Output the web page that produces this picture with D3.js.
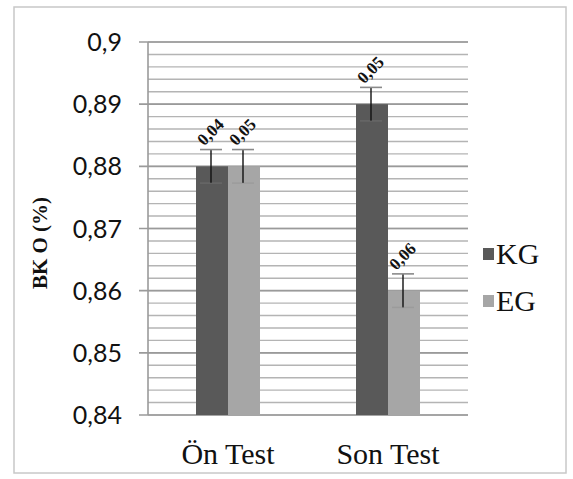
<!DOCTYPE html>
<html><head><meta charset="utf-8">
<script src="https://cdn.jsdelivr.net/npm/d3@7"></script>
<style>body{margin:0;background:#fff}svg{display:block}</style>
</head><body>
<script>
const categories = ["Ön Test", "Son Test"];
const seriesNames = ["KG", "EG"];
const kgValues = [0.88, 0.89];
const egValues = [0.88, 0.86];
const kgErrors = [0.0027, 0.0027];
const egErrors = [0.0027, 0.0027];
const kgLabels = ["0,04", "0,05"];
const egLabels = ["0,05", "0,06"];
const yTicks = [0.84, 0.85, 0.86, 0.87, 0.88, 0.89, 0.9];
const yTickLabels = ["0,84", "0,85", "0,86", "0,87", "0,88", "0,89", "0,9"];
const colors = {KG: "#595959", EG: "#a6a6a6"};

const W = 573, H = 479;
const svg = d3.select("body").append("svg").attr("width", W).attr("height", H);
svg.append("rect").attr("x", 14).attr("y", 7).attr("width", 552).attr("height", 466)
  .attr("fill", "#fff").attr("stroke", "#c8c8c8").attr("stroke-width", 1.5);

const plot = {l: 148, r: 468, t: 42, b: 415};
const y = d3.scaleLinear().domain([0.84, 0.9]).range([plot.b, plot.t]);
const x0 = d3.scaleBand().domain(categories).range([plot.l, plot.r]);
const x1 = d3.scaleBand().domain(seriesNames).range([0, 64]);

// minor grid
const minor = d3.range(0, 31).map(i => 0.84 + i * 0.002);
svg.append("g").selectAll("line").data(minor).join("line")
  .attr("x1", plot.l).attr("x2", plot.r)
  .attr("y1", d => y(d)).attr("y2", d => y(d))
  .attr("stroke", "#b4b4b4").attr("stroke-width", 1.4);
// major grid
svg.append("g").selectAll("line").data(yTicks).join("line")
  .attr("x1", plot.l - 9).attr("x2", plot.r)
  .attr("y1", d => y(d)).attr("y2", d => y(d))
  .attr("stroke", "#9a9a9a").attr("stroke-width", 1.6);
// y axis line
svg.append("line").attr("x1", plot.l).attr("x2", plot.l).attr("y1", plot.t).attr("y2", plot.b)
  .attr("stroke", "#9a9a9a").attr("stroke-width", 1.6);

// y labels
svg.append("g").selectAll("text").data(yTicks).join("text")
  .attr("x", 122).attr("y", d => y(d) + 9)
  .attr("text-anchor", "end")
  .attr("font-family", "Lato, 'Open Sans', sans-serif").attr("font-size", 25).attr("fill", "#111")
  .text((d, i) => yTickLabels[i]);

// y title
svg.append("text").attr("transform", "translate(47,243) rotate(-90)")
  .attr("text-anchor", "middle")
  .attr("font-family", "'Liberation Serif', 'Times New Roman', serif")
  .attr("font-weight", "bold").attr("font-size", 21).attr("fill", "#111")
  .text("BK O (%)");

// x labels
svg.append("g").selectAll("text").data(categories).join("text")
  .attr("x", d => x0(d) + x0.bandwidth() / 2).attr("y", 464)
  .attr("text-anchor", "middle")
  .attr("font-family", "'Liberation Serif', 'Times New Roman', serif")
  .attr("font-size", 30).attr("fill", "#111")
  .text(d => d);

const rows = [];
categories.forEach((c, i) => {
  rows.push({cat: c, s: "KG", v: kgValues[i], e: kgErrors[i], lab: kgLabels[i]});
  rows.push({cat: c, s: "EG", v: egValues[i], e: egErrors[i], lab: egLabels[i]});
});
const gx = d => x0(d.cat) + (x0.bandwidth() - 64) / 2 + x1(d.s);

svg.append("g").selectAll("rect").data(rows).join("rect")
  .attr("x", gx).attr("width", x1.bandwidth())
  .attr("y", d => y(d.v)).attr("height", d => plot.b - y(d.v))
  .attr("fill", d => colors[d.s]);

const eb = svg.append("g");
rows.forEach(d => {
  const cx = gx(d) + x1.bandwidth() / 2 - 1;
  eb.append("line").attr("x1", cx).attr("x2", cx).attr("y1", y(d.v + d.e)).attr("y2", y(d.v - d.e))
    .attr("stroke", "#111").attr("stroke-width", 1.4);
  eb.append("line").attr("x1", cx - 11).attr("x2", cx + 11).attr("y1", y(d.v + d.e)).attr("y2", y(d.v + d.e))
    .attr("stroke", "#8a8a8a").attr("stroke-width", 1.6);
  eb.append("line").attr("x1", cx - 11).attr("x2", cx + 11).attr("y1", y(d.v - d.e)).attr("y2", y(d.v - d.e))
    .attr("stroke", "#888").attr("stroke-opacity", 0.35).attr("stroke-width", 1.4);
  eb.append("text")
    .attr("transform", `translate(${cx - 7},${y(d.v + d.e) - 3}) rotate(-45)`)
    .attr("font-family", "'Liberation Serif', 'Times New Roman', serif")
    .attr("font-weight", "bold").attr("font-size", 17).attr("fill", "#111")
    .text(d.lab);
});

// legend
const lg = svg.append("g");
seriesNames.forEach((s, i) => {
  const yy = 254 + i * 47;
  lg.append("rect").attr("x", 483).attr("y", yy - 6).attr("width", 11).attr("height", 12).attr("fill", colors[s]);
  lg.append("text").attr("x", 496).attr("y", yy + 10)
    .attr("font-family", "'Liberation Serif', 'Times New Roman', serif")
    .attr("font-size", 30).attr("fill", "#111").text(s);
});
</script>
</body></html>
